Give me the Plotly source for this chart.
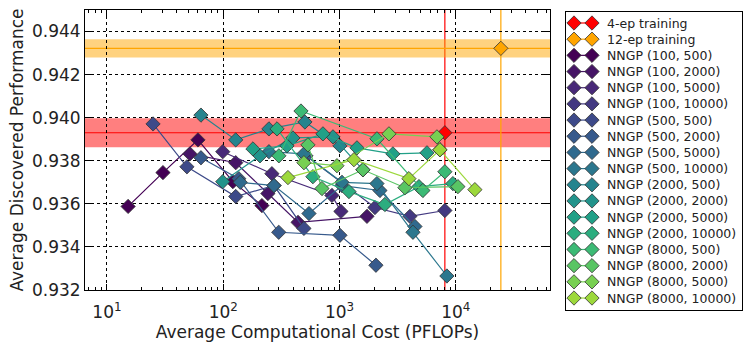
import plotly.graph_objects as go
from plotly.colors import sample_colorscale

# reference runs (training)
ep4_cost, ep4_perf, ep4_std = 8050, 0.93930, 0.00067
ep12_cost, ep12_perf, ep12_std = 24400, 0.94322, 0.00042

nngp_names = [
    "NNGP (100, 500)", "NNGP (100, 2000)", "NNGP (100, 5000)", "NNGP (100, 10000)",
    "NNGP (500, 500)", "NNGP (500, 2000)", "NNGP (500, 5000)", "NNGP (500, 10000)",
    "NNGP (2000, 500)", "NNGP (2000, 2000)", "NNGP (2000, 5000)", "NNGP (2000, 10000)",
    "NNGP (8000, 500)", "NNGP (8000, 2000)", "NNGP (8000, 5000)", "NNGP (8000, 10000)",
]

nngp_cost = [
    [15.2, 30.3, 60.6, 121, 215],
    [51.7, 128, 242, 440, 1722],
    [99, 262, 860, 1028],
    [514, 2016, 4030, 8050],
    [24.9, 48.7, 128, 273, 494],
    [64.3, 136, 300, 1008, 2056],
    [140, 273, 546, 1049, 2225, 4450],
    [247, 494, 1049, 2098, 4280, 8380],
    [64.3, 128, 247, 504, 1008],
    [99, 207, 397, 878, 1590],
    [180, 353, 720, 1412, 2877, 5650],
    [290, 590, 1205, 2455, 4820, 9440],
    [301, 466, 2098, 5210, 8050],
    [535, 706, 1590, 3650, 10420],
    [494, 950, 2660, 6880, 7300],
    [360, 1330, 3950, 7300, 14590],
]

nngp_perf = [
    [0.93588, 0.93745, 0.93897, 0.93703, 0.93592],
    [0.93832, 0.93791, 0.93648, 0.93514, 0.93542],
    [0.93842, 0.93740, 0.93639, 0.93565],
    [0.93823, 0.93583, 0.93542, 0.93569],
    [0.93971, 0.93772, 0.93634, 0.93685, 0.93486],
    [0.93814, 0.93717, 0.93468, 0.93454, 0.93315],
    [0.93700, 0.93685, 0.93555, 0.93685, 0.93662, 0.93495],
    [0.93842, 0.93832, 0.93700, 0.93694, 0.93468, 0.93265],
    [0.94012, 0.93897, 0.93948, 0.93980, 0.93869],
    [0.93703, 0.93823, 0.93906, 0.93911, 0.93758],
    [0.93855, 0.93869, 0.93925, 0.93860, 0.93832, 0.93837],
    [0.93948, 0.93726, 0.93657, 0.93597, 0.93680, 0.93694],
    [0.93823, 0.94031, 0.93902, 0.93662, 0.93749],
    [0.93874, 0.93671, 0.93758, 0.93675, 0.93680],
    [0.93791, 0.93777, 0.93925, 0.93911, 0.93851],
    [0.93722, 0.93805, 0.93717, 0.93851, 0.93666],
]

x_ticks = [10, 100, 1000, 10000]
x_ticktext = ["10<sup>1</sup>", "10<sup>2</sup>", "10<sup>3</sup>", "10<sup>4</sup>"]
x_minor = [m * 10 ** d for d in range(0, 5) for m in range(2, 10)]

colors = sample_colorscale("Viridis", [i * 0.85 / 15 for i in range(16)])
FONT = "DejaVu Sans"
INK = "#222"


def diamond(c):
    return dict(symbol="diamond", size=11, color=c, line=dict(color="#333", width=0.8))


fig = go.Figure()

# legend entries (drawn by hand so the row spacing matches)
leg_names = ["4-ep training", "12-ep training"] + nngp_names
leg_colors = ["red", "orange"] + colors

fig.add_trace(go.Scatter(
    x=[ep4_cost], y=[ep4_perf], mode="markers", marker=diamond("red"), showlegend=False,
))
fig.add_trace(go.Scatter(
    x=[ep12_cost], y=[ep12_perf], mode="markers", marker=diamond("orange"), showlegend=False,
))

for xs, ys, c in zip(nngp_cost, nngp_perf, colors):
    fig.add_trace(go.Scatter(
        x=xs, y=ys, mode="lines+markers", marker=diamond(c),
        line=dict(color=c, width=1.2), showlegend=False,
    ))

for i, (name, c) in enumerate(zip(leg_names, leg_colors)):
    fig.add_trace(go.Scatter(
        x=[8, 26], y=[i, i], xaxis="x2", yaxis="y2", mode="lines+markers",
        marker=diamond(c), line=dict(color=c, width=1.2), showlegend=False,
        hoverinfo="skip",
    ))
    fig.add_annotation(
        x=39, y=i, xref="x2", yref="y2", text=name, showarrow=False,
        xanchor="left", yanchor="middle", font=dict(size=12.5, color=INK, family=FONT),
    )

# bands and reference lines
for perf, std, cost, col, fill in [
    (ep4_perf, ep4_std, ep4_cost, "red", "rgba(255,0,0,0.5)"),
    (ep12_perf, ep12_std, ep12_cost, "orange", "rgba(255,165,0,0.5)"),
]:
    fig.add_shape(type="rect", xref="x domain", yref="y", x0=0, x1=1,
                  y0=perf - std, y1=perf + std, fillcolor=fill, line_width=0, layer="below")
    fig.add_shape(type="line", xref="x domain", yref="y", x0=0, x1=1, y0=perf, y1=perf,
                  line=dict(color=col, width=1.2), layer="below")
    fig.add_shape(type="line", xref="x", yref="y domain", x0=cost, x1=cost, y0=0, y1=1,
                  line=dict(color=col, width=1.2), layer="below")

axis_common = dict(
    showline=True, linecolor="black", linewidth=1, mirror="ticks",
    ticks="inside", tickcolor="black", ticklen=6, automargin=False,
    showgrid=True, gridcolor="black", gridwidth=0.8, griddash="dot",
    zeroline=False, tickfont=dict(size=17, color=INK, family=FONT),
)

fig.update_layout(
    xaxis=dict(
        type="log", range=[0.811, 4.81], tickvals=x_ticks, ticktext=x_ticktext,
        domain=[0, 465 / 657], ticklabelstandoff=7,
        title=dict(text="Average Computational Cost (PFLOPs)",
                   font=dict(size=17, color=INK, family=FONT), standoff=3),
        minor=dict(tickmode="array", tickvals=x_minor, ticks="inside", ticklen=3,
                   tickcolor="black", showgrid=False),
        **axis_common,
    ),
    yaxis=dict(
        range=[0.932, 0.945], dtick=0.002, tick0=0.932, tickformat=".3f",
        domain=[22 / 302, 1],
        title=dict(text="Average Discovered Performance",
                   font=dict(size=17, color=INK, family=FONT), standoff=3),
        **axis_common,
    ),
    xaxis2=dict(
        domain=[481 / 657, 1], range=[0, 176], anchor="y2", automargin=False,
        showline=True, mirror=True, linecolor="black", linewidth=1,
        showgrid=False, zeroline=False, showticklabels=False, ticks="",
    ),
    yaxis2=dict(
        domain=[2 / 302, 300 / 302], range=[17.74, -0.68], anchor="x2", automargin=False,
        showline=True, mirror=True, linecolor="black", linewidth=1,
        showgrid=False, zeroline=False, showticklabels=False, ticks="",
    ),
    width=750, height=348,
    margin=dict(l=85, r=8, t=10, b=36, autoexpand=False),
    paper_bgcolor="white", plot_bgcolor="white",
    font=dict(family=FONT, color=INK),
    showlegend=False,
)

# page body has a default 8px margin; drop it so the figure sits at the corner
fig.write_html("out.html", config={"displayModeBar": False},
               post_script="document.body.style.margin='0';")
